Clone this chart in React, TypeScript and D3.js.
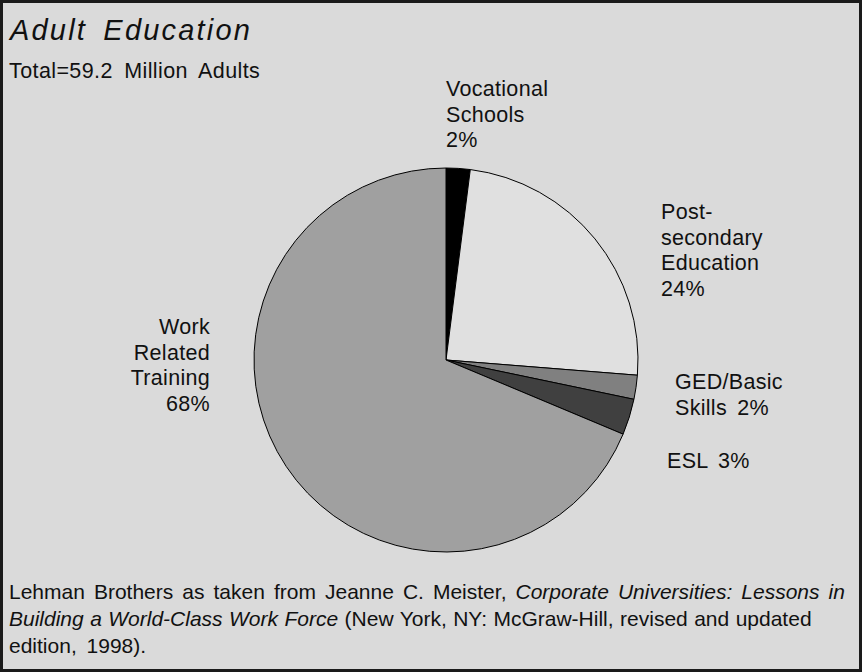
import React from "react";
import * as d3 from "d3";

// ---- data ----
const categories = [
  "Vocational Schools",
  "Post-secondary Education",
  "GED/Basic Skills",
  "ESL",
  "Work Related Training",
];
const values = [2, 24, 2, 3, 68];
// label text lines (last line gets the percent appended)
const labelNameLines = [
  ["Vocational", "Schools", ""],
  ["Post-", "secondary", "Education", ""],
  ["GED/Basic", "Skills"],
  ["ESL"],
  ["Work", "Related", "Training", ""],
];
const title = "Adult Education";
const subtitle = "Total=59.2 Million Adults";
const sourceLines: { text: string; italic: boolean }[][] = [
  [
    { text: "Lehman Brothers as taken from Jeanne C. Meister, ", italic: false },
    { text: "Corporate Universities: Lessons in", italic: true },
  ],
  [
    { text: "Building a World-Class Work Force", italic: true },
    { text: " (New York, NY: McGraw-Hill, revised and updated", italic: false },
  ],
  [{ text: "edition, 1998).", italic: false }],
];

// ---- layout / styles ----
const W = 862;
const H = 672;
const cx = 446;
const cy = 360;
const R = 192;
const fills = ["#000000", "#e0e0e0", "#808080", "#404040", "#a0a0a0"];
const labelPos = [
  { x: 446, y: 96, anchor: "start" },
  { x: 661, y: 219, anchor: "start" },
  { x: 675, y: 389, anchor: "start" },
  { x: 667, y: 468, anchor: "start" },
  { x: 210, y: 334, anchor: "end" },
];
const lineH = 25.5;
const sourceWordSpacing = [3.2, 0.6, 4];
const labelFont = "'Liberation Sans', Arial, Helvetica, sans-serif";

export default function App() {
  const pie = d3
    .pie<number>()
    .sort(null)
    .value((d) => d)
    .startAngle(0)
    .endAngle(2 * Math.PI);
  const arcs = pie(values);
  const arc = d3.arc<d3.PieArcDatum<number>>().innerRadius(0).outerRadius(R);

  return (
    <svg
      width={W}
      height={H}
      style={{ position: "absolute", left: 0, top: 0 }}
      xmlns="http://www.w3.org/2000/svg"
    >
      <rect x={0} y={0} width={W} height={H} fill="#dadada" />
      <rect
        x={1.5}
        y={1.5}
        width={W - 3}
        height={H - 3}
        fill="none"
        stroke="#1a1a1a"
        strokeWidth={3}
      />
      <text
        x={10}
        y={40}
        fontFamily={labelFont}
        fontStyle="italic"
        fontSize={29}
        letterSpacing={2.2}
        wordSpacing={6}
        fill="#111"
      >
        {title}
      </text>
      <text
        x={9}
        y={78}
        fontFamily={labelFont}
        fontSize={21.5}
        letterSpacing={0.4}
        wordSpacing={5}
        fill="#111"
      >
        {subtitle}
      </text>
      <g transform={`translate(${cx},${cy})`}>
        {arcs.map((a, i) => (
          <path
            key={categories[i]}
            d={arc(a) || ""}
            fill={fills[i]}
            stroke="#000"
            strokeWidth={1}
            strokeLinejoin="round"
          />
        ))}
      </g>
      {labelNameLines.map((lines, i) => {
        const pos = labelPos[i];
        const all = lines.slice();
        const last = all.length - 1;
        all[last] = (all[last] ? all[last] + " " : "") + `${values[i]}%`;
        return (
          <text
            key={categories[i]}
            x={pos.x}
            y={pos.y}
            textAnchor={pos.anchor as any}
            fontFamily={labelFont}
            fontSize={21.5}
            letterSpacing={0.3}
            wordSpacing={4}
            fill="#111"
          >
            {all.map((t, j) => (
              <tspan key={j} x={pos.x} y={pos.y + j * lineH}>
                {t}
              </tspan>
            ))}
          </text>
        );
      })}
      {sourceLines.map((segs, i) => (
        <text
          key={i}
          x={9}
          y={599 + i * 27}
          fontFamily={labelFont}
          fontSize={21}
          wordSpacing={sourceWordSpacing[i]}
          fill="#111"
        >
          {segs.map((s, j) => (
            <tspan key={j} fontStyle={s.italic ? "italic" : "normal"}>
              {s.text}
            </tspan>
          ))}
        </text>
      ))}
    </svg>
  );
}
